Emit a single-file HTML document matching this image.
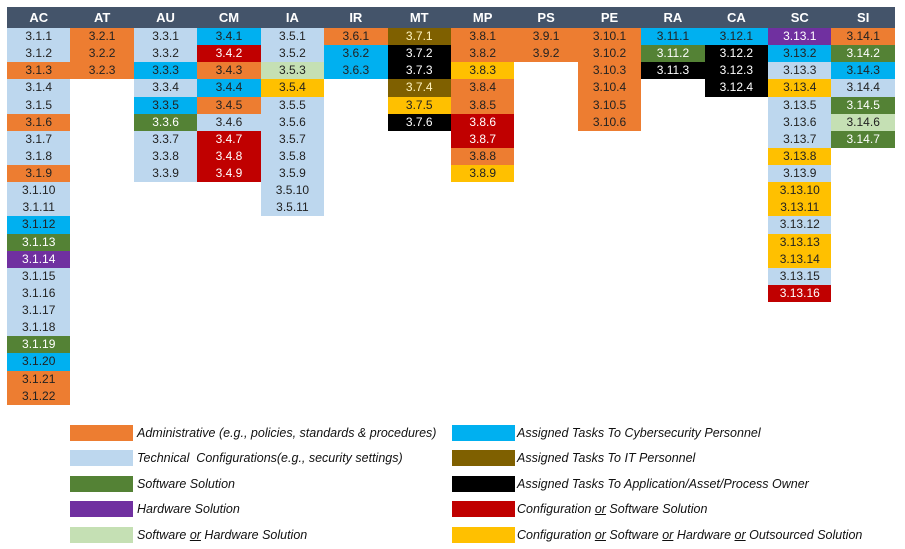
<!DOCTYPE html>
<html><head><meta charset="utf-8"><style>
body{margin:0;width:905px;height:549px;background:#fff;font-family:"Liberation Sans",sans-serif;position:relative;overflow:hidden}
#t{position:absolute;left:7px;top:7px;width:888px;display:flex}
.c{width:63.43px}
.h{height:21px;background:#44546A;color:#fff;font-weight:bold;font-size:13px;text-align:center;line-height:21px}
.c div:not(.h){height:17.14px;line-height:17px;text-align:center;font-size:12px;color:#222}
.O{background:#ED7D31}.L{background:#BDD7EE}.B{background:#00B0F0}.G{background:#548235;color:#fff!important}
.P{background:#7030A0;color:#fff!important}.LG{background:#C5E0B4}.BR{background:#7F6000;color:#fff4c0!important}
.K{background:#000;color:#fff!important}.R{background:#C00000;color:#fff!important}.Y{background:#FFC000}
.lg{position:absolute;font-style:italic;font-size:12.5px;color:#111;line-height:16px}
.lg span{position:absolute;width:63px;height:16px;top:0}
.lg i{position:absolute;white-space:nowrap;font-style:italic}
</style></head><body>
<div id="t">
<div class="c"><div class="h">AC</div><div class="L">3.1.1</div><div class="L">3.1.2</div><div class="O">3.1.3</div><div class="L">3.1.4</div><div class="L">3.1.5</div><div class="O">3.1.6</div><div class="L">3.1.7</div><div class="L">3.1.8</div><div class="O">3.1.9</div><div class="L">3.1.10</div><div class="L">3.1.11</div><div class="B">3.1.12</div><div class="G">3.1.13</div><div class="P">3.1.14</div><div class="L">3.1.15</div><div class="L">3.1.16</div><div class="L">3.1.17</div><div class="L">3.1.18</div><div class="G">3.1.19</div><div class="B">3.1.20</div><div class="O">3.1.21</div><div class="O">3.1.22</div></div>
<div class="c"><div class="h">AT</div><div class="O">3.2.1</div><div class="O">3.2.2</div><div class="O">3.2.3</div></div>
<div class="c"><div class="h">AU</div><div class="L">3.3.1</div><div class="L">3.3.2</div><div class="B">3.3.3</div><div class="L">3.3.4</div><div class="B">3.3.5</div><div class="G">3.3.6</div><div class="L">3.3.7</div><div class="L">3.3.8</div><div class="L">3.3.9</div></div>
<div class="c"><div class="h">CM</div><div class="B">3.4.1</div><div class="R">3.4.2</div><div class="O">3.4.3</div><div class="B">3.4.4</div><div class="O">3.4.5</div><div class="L">3.4.6</div><div class="R">3.4.7</div><div class="R">3.4.8</div><div class="R">3.4.9</div></div>
<div class="c"><div class="h">IA</div><div class="L">3.5.1</div><div class="L">3.5.2</div><div class="LG">3.5.3</div><div class="Y">3.5.4</div><div class="L">3.5.5</div><div class="L">3.5.6</div><div class="L">3.5.7</div><div class="L">3.5.8</div><div class="L">3.5.9</div><div class="L">3.5.10</div><div class="L">3.5.11</div></div>
<div class="c"><div class="h">IR</div><div class="O">3.6.1</div><div class="B">3.6.2</div><div class="B">3.6.3</div></div>
<div class="c"><div class="h">MT</div><div class="BR">3.7.1</div><div class="K">3.7.2</div><div class="K">3.7.3</div><div class="BR">3.7.4</div><div class="Y">3.7.5</div><div class="K">3.7.6</div></div>
<div class="c"><div class="h">MP</div><div class="O">3.8.1</div><div class="O">3.8.2</div><div class="Y">3.8.3</div><div class="O">3.8.4</div><div class="O">3.8.5</div><div class="R">3.8.6</div><div class="R">3.8.7</div><div class="O">3.8.8</div><div class="Y">3.8.9</div></div>
<div class="c"><div class="h">PS</div><div class="O">3.9.1</div><div class="O">3.9.2</div></div>
<div class="c"><div class="h">PE</div><div class="O">3.10.1</div><div class="O">3.10.2</div><div class="O">3.10.3</div><div class="O">3.10.4</div><div class="O">3.10.5</div><div class="O">3.10.6</div></div>
<div class="c"><div class="h">RA</div><div class="B">3.11.1</div><div class="G">3.11.2</div><div class="K">3.11.3</div></div>
<div class="c"><div class="h">CA</div><div class="B">3.12.1</div><div class="K">3.12.2</div><div class="K">3.12.3</div><div class="K">3.12.4</div></div>
<div class="c"><div class="h">SC</div><div class="P">3.13.1</div><div class="B">3.13.2</div><div class="L">3.13.3</div><div class="Y">3.13.4</div><div class="L">3.13.5</div><div class="L">3.13.6</div><div class="L">3.13.7</div><div class="Y">3.13.8</div><div class="L">3.13.9</div><div class="Y">3.13.10</div><div class="Y">3.13.11</div><div class="L">3.13.12</div><div class="Y">3.13.13</div><div class="Y">3.13.14</div><div class="L">3.13.15</div><div class="R">3.13.16</div></div>
<div class="c"><div class="h">SI</div><div class="O">3.14.1</div><div class="G">3.14.2</div><div class="B">3.14.3</div><div class="L">3.14.4</div><div class="G">3.14.5</div><div class="LG">3.14.6</div><div class="G">3.14.7</div></div>
</div>

<div class="lg" style="left:0;top:425px"><span class="O" style="left:70px"></span><i style="left:137px">Administrative (e.g., policies, standards &amp; procedures)</i></div>
<div class="lg" style="left:0;top:450px"><span class="L" style="left:70px"></span><i style="left:137px">Technical&nbsp; Configurations(e.g., security settings)</i></div>
<div class="lg" style="left:0;top:476px"><span class="G" style="left:70px"></span><i style="left:137px">Software Solution</i></div>
<div class="lg" style="left:0;top:501px"><span class="P" style="left:70px"></span><i style="left:137px">Hardware Solution</i></div>
<div class="lg" style="left:0;top:527px"><span class="LG" style="left:70px"></span><i style="left:137px">Software <u>or</u> Hardware Solution</i></div>

<div class="lg" style="left:0;top:425px"><span class="B" style="left:452px"></span><i style="left:517px">Assigned Tasks To Cybersecurity Personnel</i></div>
<div class="lg" style="left:0;top:450px"><span class="BR" style="left:452px"></span><i style="left:517px">Assigned Tasks To IT Personnel</i></div>
<div class="lg" style="left:0;top:476px"><span class="K" style="left:452px"></span><i style="left:517px">Assigned Tasks To Application/Asset/Process Owner</i></div>
<div class="lg" style="left:0;top:501px"><span class="R" style="left:452px"></span><i style="left:517px">Configuration <u>or</u> Software Solution</i></div>
<div class="lg" style="left:0;top:527px"><span class="Y" style="left:452px"></span><i style="left:517px">Configuration <u>or</u> Software <u>or</u> Hardware <u>or</u> Outsourced Solution</i></div>
</body></html>
